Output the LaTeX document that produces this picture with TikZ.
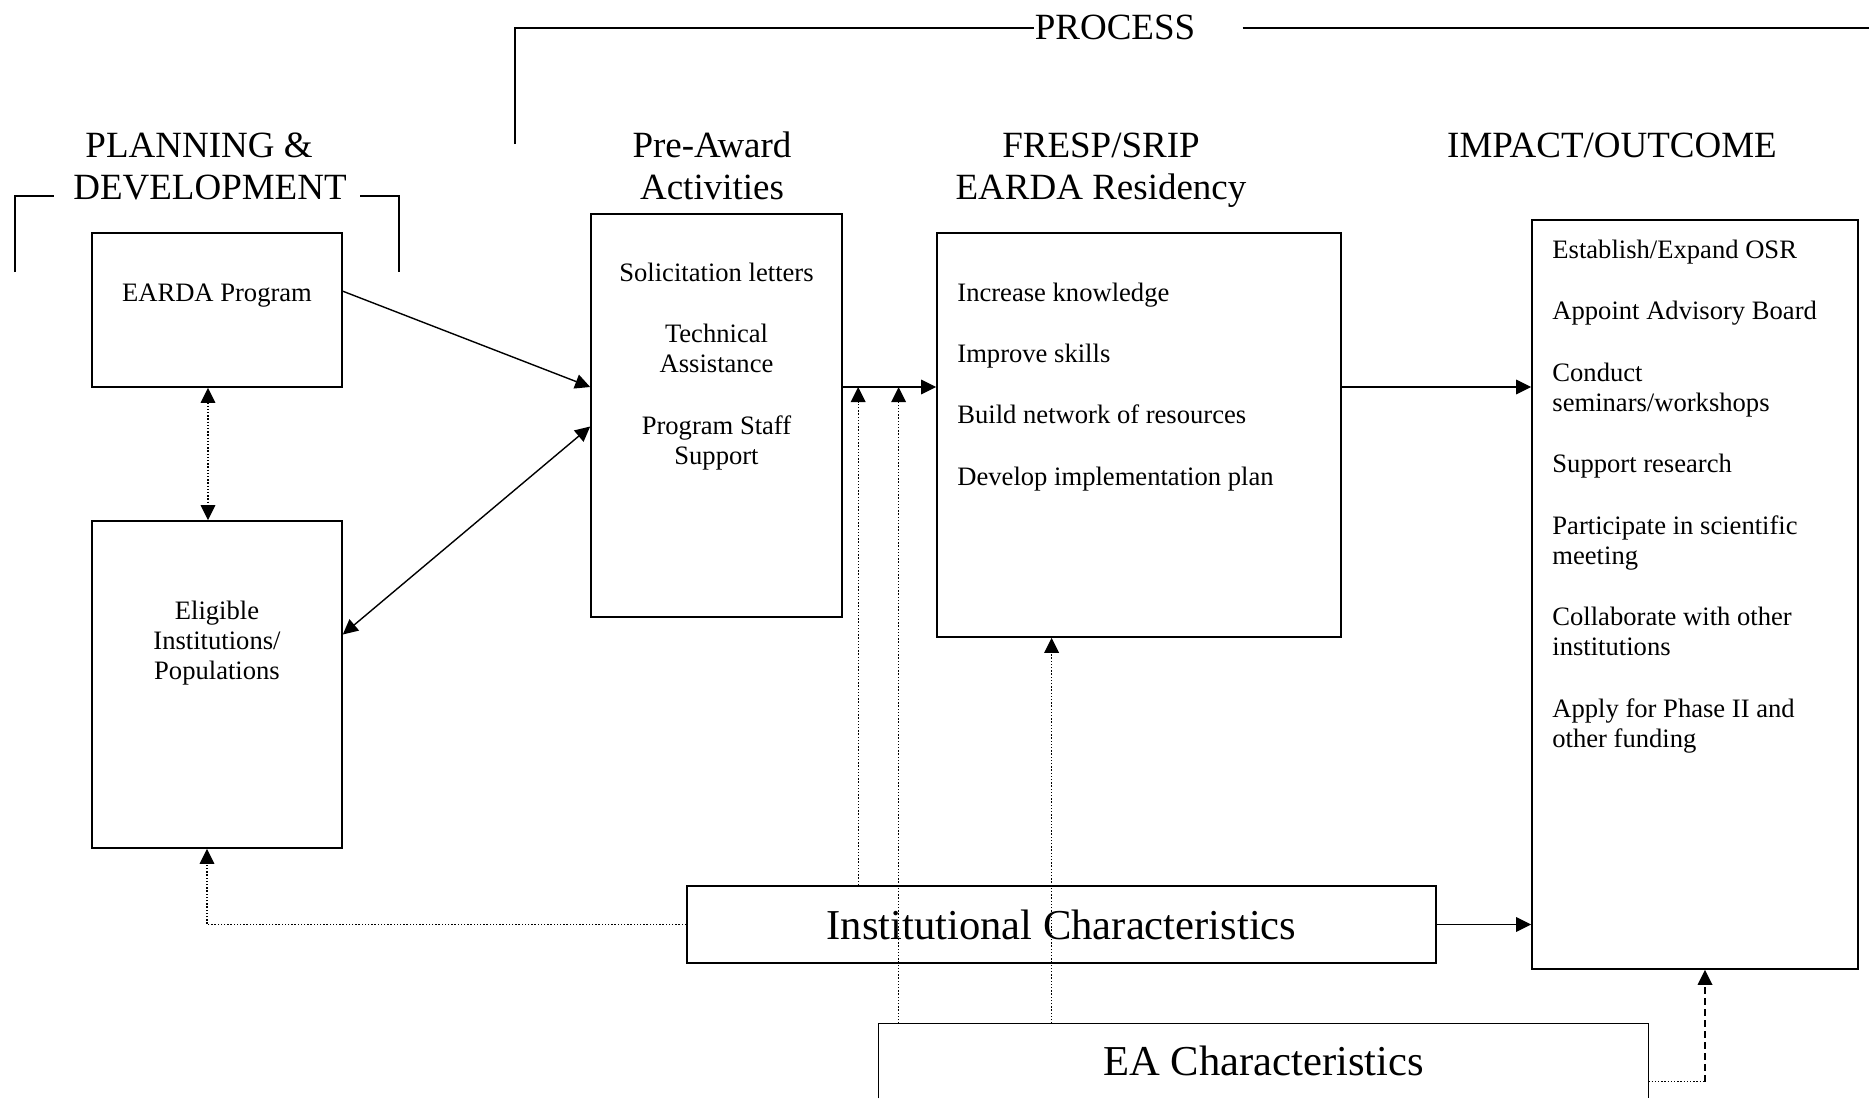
\documentclass[tikz,border=0pt]{standalone}
\usepackage{fontspec}
\setmainfont{Liberation Serif}
\usetikzlibrary{arrows.meta,calc}
\begin{document}
\begin{tikzpicture}[x=0.5pt,y=-0.5pt,
  boxline/.style={line width=0.8pt},
  box/.style={draw,boxline,rectangle,inner sep=0pt},
  body/.style={font=\fontsize{13.3pt}{15pt}\selectfont,inner sep=0pt},
  head/.style={font=\fontsize{18.5pt}{21pt}\selectfont,inner sep=0pt,align=center,anchor=base},
  big/.style={font=\fontsize{21.3pt}{25pt}\selectfont},
  conn/.style={line width=0.7pt},
  tip/.style={-{Triangle[length=7.5pt,width=7.3pt]}},
  tipboth/.style={{Triangle[length=7.5pt,width=7.3pt]}-{Triangle[length=7.5pt,width=7.3pt]}},
  dotln/.style={line width=0.7pt,dash pattern=on 0.7pt off 0.9pt},
  dashln/.style={line width=0.8pt,dash pattern=on 3.5pt off 2pt},
]
\useasboundingbox (0,0) rectangle (1869,1098);

% boxes
\node[box,minimum width=125pt,minimum height=77pt] (earda) at (217,310) {};
\node[box,minimum width=125pt,minimum height=163.5pt] (elig) at (217,684.5) {};
\node[box,minimum width=125.5pt,minimum height=201.5pt] (pre) at (716.5,415.5) {};
\node[box,minimum width=202pt,minimum height=202pt] (fresp) at (1139,435) {};
\node[box,minimum width=163pt,minimum height=374.5pt] (impact) at (1695,594.5) {};
\node[box,big,minimum width=374.5pt,minimum height=38.5pt] (inst) at (1061.5,924.5) {Institutional Characteristics};
\node[big,inner sep=0pt,minimum width=384.5pt,minimum height=37pt] (ea) at (1263.5,1061) {EA Characteristics};
\draw[boxline] (ea.south west) -- (ea.north west) -- (ea.north east) -- (ea.south east);

% box texts (base anchor = baseline of the last line)
\node[body,anchor=base] (eardaT) at (217,301) {EARDA Program};
\node[body,anchor=base,align=center] (eligT) at (217,679) {Eligible\\Institutions/\\Populations};
\node[body,anchor=base,align=center] (preT) at (716.5,464) {Solicitation letters\\[15.75pt]Technical\\Assistance\\[15.75pt]Program Staff\\Support};
\node[body,anchor=base west,align=left] (frespT) at (957,485) {Increase knowledge\\[15.65pt]Improve skills\\[15.65pt]Build network of resources\\[15.65pt]Develop implementation plan};
\node[body,anchor=base west,align=left] (impT) at (1552,747) {Establish/Expand OSR\\[15.75pt]Appoint Advisory Board\\[15.75pt]Conduct\\seminars/workshops\\[15.75pt]Support research\\[15.75pt]Participate in scientific\\meeting\\[15.75pt]Collaborate with other\\institutions\\[15.75pt]Apply for Phase II and\\other funding};

% headers
\node[head] (hplan) at (210,199) {PLANNING \&\rule{11pt}{0pt}\\DEVELOPMENT};
\node[head] (hpre) at (712,199) {Pre-Award\\Activities};
\node[head] (hfresp) at (1101,199) {FRESP/SRIP\\EARDA Residency};
\node[head] (himp) at (1612,157) {IMPACT/OUTCOME};
\node[head] (hproc) at (1115,39) {PROCESS};

% brackets
\coordinate (bl1) at (15,272); \coordinate (bl2) at (15,196); \coordinate (bl3) at (54,196);
\draw[conn] (bl1) -- (bl2) -- (bl3);
\coordinate (br1) at (360,196); \coordinate (br2) at (399,196); \coordinate (br3) at (399,272);
\draw[conn] (br1) -- (br2) -- (br3);
\coordinate (pb) at (515,144); \coordinate (pt) at (515,28);
\draw[conn] (pb) -- (pt) -- (pt -| hproc.west);
\coordinate (pe) at ([xshift=23.5pt]hproc.east);
\coordinate (pr) at (1869,28);
\draw[conn] (pe |- pt) -- (pr);

% connectors
\coordinate (mid) at (0,387);
\draw[conn,tip] ($(earda.north east)+(0,59)$) -- (pre.west |- mid);
\draw[conn,tipboth] ($(elig.east)+(0,-50)$) -- ($(pre.west)+(0,11)$);
\draw[dotln,tipboth] ($(earda.south)+(-9,0)$) -- ($(elig.north)+(-9,0)$);
\draw[conn,tip] (pre.east |- mid) -- (fresp.west |- mid);
\draw[conn,tip] (fresp.east |- mid) -- (impact.west |- mid);
\draw[conn,tip] (inst.east) -- (impact.west |- inst.east);
\coordinate (eb) at ($(elig.south)+(-10,0)$);
\draw[dotln,tip] (inst.west) -| (eb);
\coordinate (d1) at ($(inst.north west)+(172,0)$);
\coordinate (d2) at ($(ea.north west)+(20,0)$);
\coordinate (d3) at ($(ea.north west)+(173,0)$);
\draw[dotln,tip] (d1) -- (d1 |- mid);
\draw[dotln,tip] (d2) -- (d2 |- mid);
\draw[dotln,tip] (d3) -- (d3 |- fresp.south);
\coordinate (e1) at ($(ea.north east)+(0,58)$);
\coordinate (ic) at ($(impact.south)+(10,0)$);
\draw[dotln] (e1) -- (ic |- e1);
\draw[dashln,tip] (ic |- e1) -- (ic);
\end{tikzpicture}
\end{document}
